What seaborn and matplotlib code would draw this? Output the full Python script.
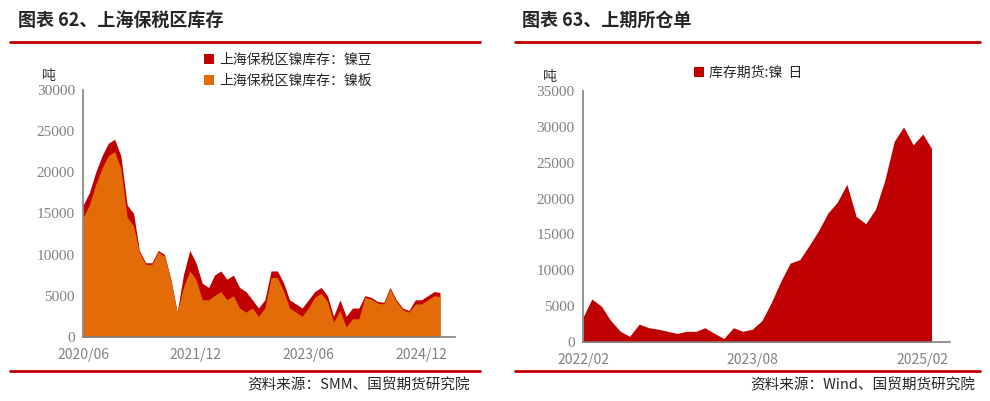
import pandas as pd
import numpy as np
import matplotlib
matplotlib.use('Agg')
import matplotlib.pyplot as plt
import seaborn as sns

# Datos: inventario bono Shanghai (mensual, desde 2020/06)
total_bonded = [16000, 17500, 20000, 22000, 23500, 24000, 22000, 16000, 15000, 10500,
                9000, 9000, 10500, 10000, 7000, 3000, 7500, 10500, 9000, 6500,
                6000, 7500, 8000, 7000, 7500, 6000, 5500, 4500, 3500, 4500,
                8000, 8000, 6500, 4500, 4000, 3500, 4500, 5500, 6000, 5000,
                2500, 4500, 2500, 3500, 3500, 5000, 4800, 4300, 4200, 6000,
                4500, 3500, 3200, 4500, 4500, 5000, 5500, 5400]
bean = [1500, 1500, 1500, 1500, 1500, 1500, 1500, 1500, 1500, 200,
        200, 200, 200, 200, 0, 0, 1500, 2500, 2000, 2000,
        1500, 2500, 2500, 2500, 2500, 2500, 2500, 1000, 1000, 1000,
        800, 800, 1000, 1000, 1000, 1000, 1000, 700, 700, 700,
        700, 1300, 1300, 1300, 1300, 200, 200, 200, 200, 200,
        200, 200, 200, 500, 500, 500, 500, 500]
plate = [t - b for t, b in zip(total_bonded, bean)]
fechas_izq = pd.date_range('2020-06-01', periods=len(total_bonded), freq='MS')

# Datos: warrants SHFE (mensual, desde 2022/02)
warrant = [3500, 6000, 5000, 3000, 1500, 800, 2500, 2000, 1800, 1500,
           1200, 1500, 1500, 2000, 1200, 500, 2000, 1500, 1800, 3000,
           5500, 8500, 11000, 11500, 13500, 15500, 18000, 19500, 22000, 17500,
           16500, 18500, 22500, 28000, 30000, 27500, 29000, 27000]
fechas_der = pd.date_range('2022-02-01', periods=len(warrant), freq='MS')

sns.set_style('white')
plt.rcParams['font.family'] = ['Noto Sans CJK SC', 'DejaVu Sans']

rojo = '#C00000'
naranja = '#E36C09'
gris = '#808080'

fig = plt.figure(figsize=(9.9, 4.01), dpi=100)

# Titulos y lineas rojas
fig.text(0.018, 0.935, '图表 62、上海保税区库存', fontsize=13, fontweight='bold')
fig.text(0.527, 0.935, '图表 63、上期所仓单', fontsize=13, fontweight='bold')
for x0, x1 in [(0.01, 0.485), (0.52, 0.99)]:
    fig.add_artist(plt.Line2D([x0, x1], [0.895, 0.895], color=rojo, lw=2))
    fig.add_artist(plt.Line2D([x0, x1], [0.076, 0.076], color=rojo, lw=2))
fig.text(0.475, 0.03, '资料来源：SMM、国贸期货研究院', fontsize=10.5, ha='right')
fig.text(0.985, 0.03, '资料来源：Wind、国贸期货研究院', fontsize=10.5, ha='right')

def estilo(ax, ymax, step, ticks, labels):
    sns.despine(ax=ax)
    for s in ['left', 'bottom']:
        ax.spines[s].set_color(gris)
        ax.spines[s].set_linewidth(1.2)
    ax.set_ylim(0, ymax)
    ax.set_yticks(np.arange(0, ymax + 1, step))
    ax.tick_params(axis='y', colors=gris, labelsize=11, length=4, direction='in', pad=6)
    ax.tick_params(axis='x', colors=gris, labelsize=10, length=4, direction='in', pad=8)
    for lb in ax.get_yticklabels():
        lb.set_fontfamily('Liberation Serif')
    ax.set_xticks(ticks)
    ax.set_xticklabels(labels)
    ax.text(-0.11, 1.04, '吨', transform=ax.transAxes, fontsize=10, color='#333333')

# Panel izquierdo
ax1 = fig.add_axes([0.084, 0.160, 0.376, 0.616])
ax1.fill_between(fechas_izq, 0, total_bonded, color=rojo, lw=0, label='上海保税区镍库存：镍豆')
ax1.fill_between(fechas_izq, 0, plate, color=naranja, lw=0, label='上海保税区镍库存：镍板')
ax1.set_xlim(pd.Timestamp('2020-06-01'), pd.Timestamp('2025-05-15'))
estilo(ax1, 30000, 5000,
       [pd.Timestamp(d) for d in ['2020-06-01', '2021-12-01', '2023-06-01', '2024-12-01']],
       ['2020/06', '2021/12', '2023/06', '2024/12'])
ax1.legend(loc='upper center', bbox_to_anchor=(0.55, 1.2), frameon=False, fontsize=10,
           handlelength=0.7, handleheight=0.7, handletextpad=0.4, labelspacing=0.5)

# Panel derecho
ax2 = fig.add_axes([0.589, 0.147, 0.371, 0.626])
ax2.fill_between(fechas_der, 0, warrant, color=rojo, lw=0, label='库存期货:镍  日')
ax2.set_xlim(pd.Timestamp('2022-02-01'), pd.Timestamp('2025-05-01'))
estilo(ax2, 35000, 5000,
       [pd.Timestamp(d) for d in ['2022-02-01', '2023-08-01', '2025-02-01']],
       ['2022/02', '2023/08', '2025/02'])
ax2.legend(loc='upper center', bbox_to_anchor=(0.45, 1.15), frameon=False, fontsize=10,
           handlelength=0.7, handleheight=0.7, handletextpad=0.4)

fig.savefig('out.png', dpi=100)
